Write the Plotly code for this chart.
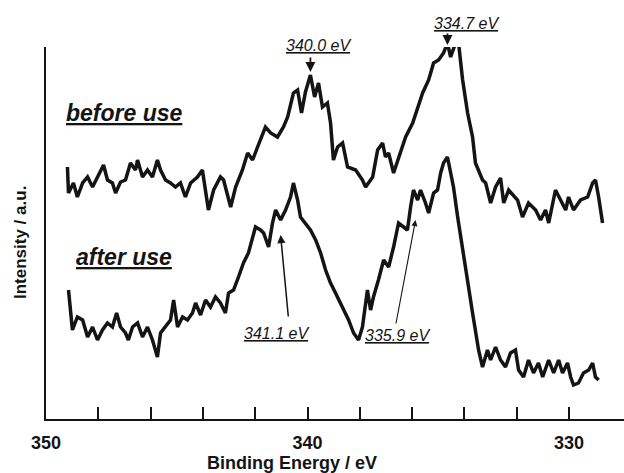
import plotly.graph_objects as go

# ---- data (binding energy in eV, intensity in a.u.) ----
be_before = [
    349.18, 349.14, 348.95, 348.80, 348.60, 348.41, 348.22, 348.03, 347.80, 347.65,
    347.46, 347.34, 347.15, 346.96, 346.77, 346.58, 346.50, 346.31, 346.12, 345.93,
    345.74, 345.62, 345.43, 345.24, 345.05, 344.86, 344.67, 344.47, 344.21, 344.02,
    343.79, 343.59, 343.33, 343.21, 342.94, 342.75, 342.49, 342.29, 342.10, 341.91,
    341.61, 341.41, 341.15, 340.92, 340.76, 340.54, 340.38, 340.23, 340.08, 339.89,
    339.73, 339.58, 339.43, 339.24, 339.12, 339.01, 338.85, 338.66, 338.47, 338.16,
    337.90, 337.78, 337.51, 337.32, 337.13, 337.02, 336.90, 336.71, 336.52, 336.25,
    335.98, 335.79, 335.60, 335.37, 335.18, 334.99, 334.80, 334.65, 334.53, 334.34,
    334.23, 334.07, 333.88, 333.69, 333.58, 333.31, 333.19, 333.00, 332.81, 332.62,
    332.50, 332.31, 331.97, 331.78, 331.55, 331.28, 331.09, 330.90, 330.78, 330.52,
    330.33, 330.13, 330.02, 329.83, 329.56, 329.29, 329.10, 328.99, 328.87, 328.72,
]
int_before = [
    252, 226, 236, 222, 236, 242, 232, 242, 254, 239,
    236, 226, 237, 239, 256, 249, 259, 242, 249, 242,
    259, 249, 239, 236, 232, 236, 222, 236, 242, 249,
    209, 229, 242, 239, 212, 232, 249, 266, 259, 272,
    292, 286, 282, 292, 302, 326, 329, 306, 327, 344,
    322, 336, 312, 316, 296, 259, 272, 276, 252, 249,
    239, 232, 242, 269, 276, 262, 266, 246, 262, 282,
    296, 312, 326, 339, 356, 359, 366, 376, 362, 376,
    377, 339, 306, 282, 256, 239, 236, 216, 232, 241,
    216, 229, 219, 202, 216, 209, 199, 209, 196, 229,
    219, 209, 222, 209, 219, 222, 236, 239, 222, 196,
]

be_after = [
    349.14, 348.99, 348.80, 348.60, 348.41, 348.22, 348.03, 347.84, 347.65, 347.46,
    347.30, 347.15, 346.96, 346.85, 346.69, 346.50, 346.31, 346.12, 345.93, 345.74,
    345.62, 345.43, 345.24, 345.12, 344.97, 344.78, 344.59, 344.40, 344.28, 344.09,
    343.90, 343.71, 343.52, 343.33, 343.14, 343.02, 342.83, 342.64, 342.45, 342.26,
    342.10, 341.99, 341.80, 341.68, 341.49, 341.34, 341.22, 341.03, 340.84, 340.65,
    340.54, 340.38, 340.27, 340.08, 339.89, 339.69, 339.50, 339.31, 339.12, 338.93,
    338.66, 338.43, 338.24, 338.05, 337.90, 337.71, 337.59, 337.48, 337.29, 337.09,
    336.90, 336.71, 336.52, 336.33, 336.18, 336.06, 335.95, 335.79, 335.68, 335.49,
    335.37, 335.18, 335.03, 334.91, 334.80, 334.65, 334.53, 334.42, 334.26, 334.07,
    333.88, 333.69, 333.46, 333.31, 333.12, 333.00, 332.81, 332.62, 332.43, 332.24,
    332.05, 331.93, 331.74, 331.55, 331.36, 331.17, 331.01, 330.78, 330.59, 330.40,
    330.25, 330.06, 329.94, 329.83, 329.64, 329.45, 329.25, 329.10, 328.99, 328.87,
]
int_after = [
    129, 89, 102, 99, 82, 92, 79, 89, 96, 92,
    106, 92, 86, 79, 92, 96, 82, 92, 79, 62,
    86, 92, 99, 119, 92, 102, 99, 106, 116, 104,
    119, 112, 122, 116, 106, 126, 129, 142, 156, 166,
    182, 192, 189, 186, 172, 196, 209, 199, 209, 222,
    236, 219, 202, 196, 189, 179, 166, 149, 136, 126,
    112, 99, 86, 79, 92, 129, 109, 122, 139, 159,
    152, 172, 196, 192, 189, 212, 229, 219, 229, 216,
    206, 226, 229, 246, 256, 262, 246, 232, 202, 169,
    136, 106, 69, 52, 69, 59, 72, 59, 52, 66,
    69, 49, 42, 59, 46, 56, 42, 59, 46, 59,
    46, 56, 42, 34, 36, 46, 49, 56, 42, 39,
]

tick_vals = [350, 348, 346, 344, 342, 340, 338, 336, 334, 332, 330]
tick_text = ["350", "", "", "", "", "340", "", "", "", "", "330"]

FONT = "Liberation Sans, Arial, sans-serif"
INK = "#141414"

W, H = 624, 473
L, R, T, B = 46, 0, 47, 54
pw, ph = W - L - R, H - T - B
Y_MAX = 372

fig = go.Figure()
for xs, ys in ((be_before, int_before), (be_after, int_after)):
    fig.add_trace(go.Scatter(x=xs, y=ys, mode="lines", cliponaxis=False,
                             line=dict(color=INK, width=3.5), showlegend=False,
                             hoverinfo="skip"))

ann = []
# sample labels
for txt, x, y in (("before use", 347.0, 306), ("after use", 347.0, 162)):
    ann.append(dict(x=x, y=y, xref="x", yref="y", text=txt, showarrow=False,
                    xanchor="center", yanchor="middle",
                    font=dict(family=FONT, size=23, color=INK, style="italic",
                              weight="bold", lineposition="under")))
# peak labels (paper y so labels above the axis top still show)
for txt, x, y in (("340.0 eV", 339.58, 374), ("334.7 eV", 333.92, 396),
                  ("341.1 eV", 341.19, 86), ("335.9 eV", 336.56, 84)):
    ann.append(dict(x=x, y=y / Y_MAX, xref="x", yref="paper", text=txt, showarrow=False,
                    xanchor="center", yanchor="middle",
                    font=dict(family=FONT, size=16, color=INK, style="italic",
                              lineposition="under")))
# short downward arrows (tip, pixel offset of tail)
for x, y, ay in ((339.89, 347, -16), (334.65, 374, -13)):
    ann.append(dict(x=x, y=y / Y_MAX, xref="x", yref="paper", ax=0, ay=ay,
                    text="", showarrow=True, arrowhead=2, arrowsize=1.1,
                    arrowwidth=1.8, arrowcolor=INK))
# long thin arrows (tip x,y ; tail ax,ay in data units)
for x, y, axv, ayv, w in ((341.03, 184, 340.73, 101, 1.5),
                          (335.87, 199, 336.63, 94, 1.1)):
    ann.append(dict(x=x, y=y, xref="x", yref="y", ax=axv, ay=ayv,
                    axref="x", ayref="y", text="", showarrow=True,
                    arrowhead=2, arrowsize=1.1, arrowwidth=w, arrowcolor=INK))
# axis titles
ann.append(dict(x=(292 - L) / pw, y=(H - 463 - B) / ph, xref="paper", yref="paper",
                xanchor="center", yanchor="middle",
                text="<b>Binding Energy / eV</b>",
                showarrow=False, font=dict(family=FONT, size=18, color=INK)))
ann.append(dict(x=(20 - L) / pw, y=(H - 243 - B) / ph, xref="paper", yref="paper",
                xanchor="center", yanchor="middle",
                text="<b>Intensity / a.u.</b>",
                textangle=-90, showarrow=False, font=dict(family=FONT, size=17, color=INK)))

fig.update_layout(
    width=W, height=H,
    margin=dict(l=L, r=R, t=T, b=B),
    paper_bgcolor="white", plot_bgcolor="white",
    annotations=ann,
    xaxis=dict(range=[350, 327.9], tickvals=tick_vals, ticktext=tick_text,
               ticks="inside", ticklen=12, tickwidth=2, tickcolor=INK,
               showline=True, linecolor=INK, linewidth=2, showgrid=False,
               zeroline=False, ticklabelstandoff=6,
               tickfont=dict(family=FONT, size=18, color=INK, weight="bold")),
    yaxis=dict(range=[0, Y_MAX], showticklabels=False, ticks="", showgrid=False,
               zeroline=False, showline=True, linecolor=INK, linewidth=2),
)

fig.write_html("out.html")
